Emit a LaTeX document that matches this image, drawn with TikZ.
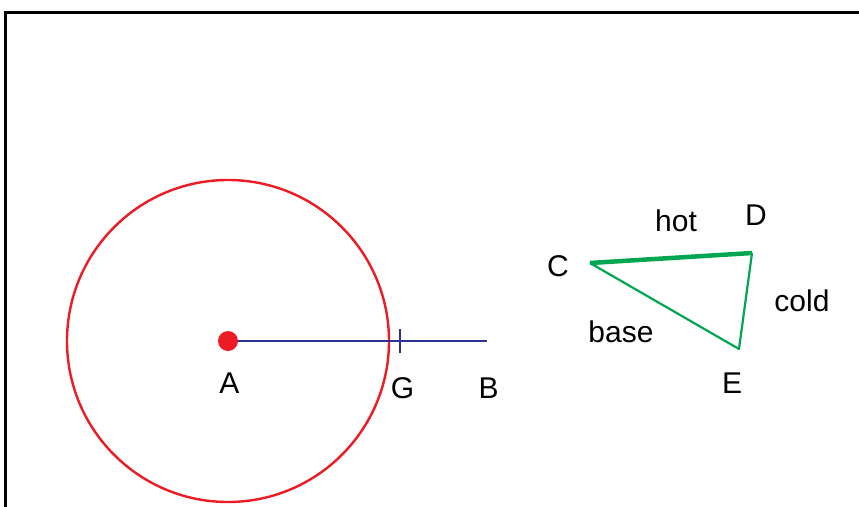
\documentclass[tikz,border=0pt]{standalone}
\usepackage{fontspec}
\setmainfont{Liberation Sans}
\definecolor{ptred}{RGB}{237,28,36}
\definecolor{ptblue}{RGB}{46,49,146}
\definecolor{ptgreen}{RGB}{0,166,81}
\begin{document}
\begin{tikzpicture}[x=1pt,y=-1pt]
\useasboundingbox (0,0) rectangle (859,506);
\draw[line width=3pt] (5,515) -- (5,12.5) -- (865,12.5);
% points
\coordinate (A) at (228,341);
\coordinate (B) at (487,341);
\coordinate (G) at (400,341);
\coordinate (Gt) at (400,329);
\coordinate (Gb) at (400,353);
\coordinate (C) at (590,263);
\coordinate (D) at (752,253);
\coordinate (E) at (739,349);
% circle and segment
\draw[ptred,line width=2.4pt] (A) circle (161pt);
\draw[ptblue,line width=2.4pt] (A) -- (B);
\draw[ptblue,line width=2.4pt] (Gt) -- (Gb);
\fill[ptred] (A) circle (10pt);
% triangle
\draw[ptgreen,line width=2.2pt,line join=round] (D) -- (E) -- (C);
\draw[ptgreen,line width=4.5pt] (C) -- (D);
\begin{scope}[every node/.style={font=\fontsize{30}{36}\selectfont}]
  \node (lA) at (229.5,383) {A};
  \node (lG) at (402.5,388) {G};
  \node (lB) at (488.5,388) {B};
  \node (lC) at (558,266) {C};
  \node (lD) at (756,215) {D};
  \node (lE) at (732,383) {E};
  \node (lhot) at (676,221) {hot};
  \node (lcold) at (802,301) {cold};
  \node (lbase) at (621,332) {base};
\end{scope}
\end{tikzpicture}
\end{document}
